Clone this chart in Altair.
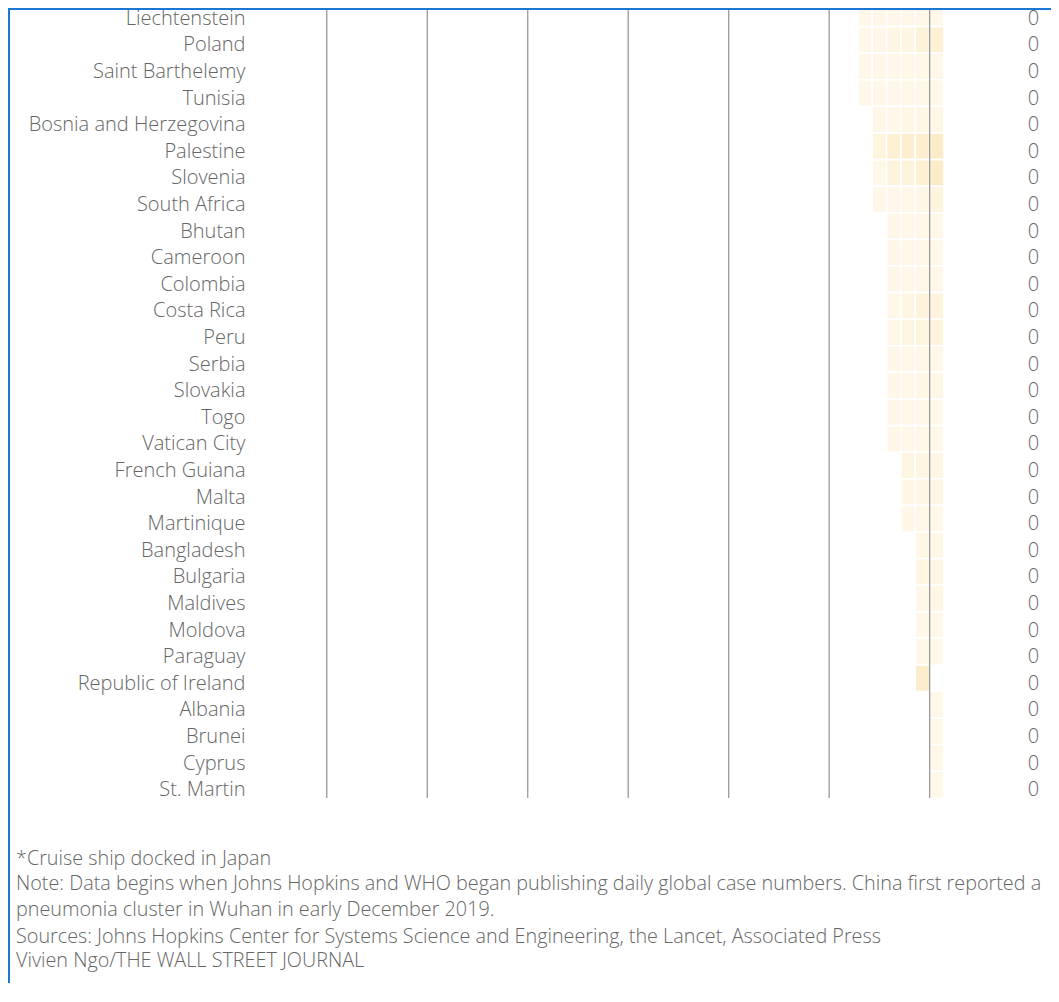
import json
import altair as alt
import pandas as pd

# ---- data ----
countries = [
    "Liechtenstein", "Poland", "Saint Barthelemy", "Tunisia",
    "Bosnia and Herzegovina", "Palestine", "Slovenia", "South Africa",
    "Bhutan", "Cameroon", "Colombia", "Costa Rica", "Peru", "Serbia",
    "Slovakia", "Togo", "Vatican City", "French Guiana", "Malta",
    "Martinique", "Bangladesh", "Bulgaria", "Maldives", "Moldova",
    "Paraguay", "Republic of Ireland", "Albania", "Brunei", "Cyprus",
    "St. Martin",
]
# day index (0 = Jan. 22) of each country's first reported case
first_day = [42, 42, 42, 42, 43, 43, 43, 43, 44, 44, 44, 44, 44, 44, 44,
             44, 44, 45, 45, 45, 46, 46, 46, 46, 46, 46, 47, 47, 47, 47]
# cumulative confirmed cases, one value per day from the first day on
cases = [
    [1, 1, 1, 1, 1, 1],        # Liechtenstein
    [1, 1, 5, 5, 11, 16],      # Poland
    [1, 1, 1, 1, 1, 1],        # Saint Barthelemy
    [1, 1, 1, 1, 1, 2],        # Tunisia
    [2, 2, 3, 3, 3],           # Bosnia and Herzegovina
    [7, 16, 19, 19, 25],       # Palestine
    [1, 8, 9, 16, 25],         # Slovenia
    [1, 1, 2, 3, 7],           # South Africa
    [1, 1, 1, 1],              # Bhutan
    [1, 2, 2, 2],              # Cameroon
    [1, 1, 1, 1],              # Colombia
    [1, 5, 9, 9],              # Costa Rica
    [1, 6, 7, 9],              # Peru
    [1, 1, 1, 1],              # Serbia
    [1, 1, 3, 3],              # Slovakia
    [1, 1, 1, 1],              # Togo
    [1, 1, 1, 1],              # Vatican City
    [5, 5, 5],                 # French Guiana
    [1, 3, 4],                 # Malta
    [2, 2, 2],                 # Martinique
    [3, 3],                    # Bangladesh
    [4, 4],                    # Bulgaria
    [2, 4],                    # Maldives
    [1, 1],                    # Moldova
    [1, 1],                    # Paraguay
    [21],                      # Republic of Ireland
    [2],                       # Albania
    [1],                       # Brunei
    [2],                       # Cyprus
    [2],                       # St. Martin
]
deaths = [0, 0, 0, 0, 0, 0, 0, 0, 0, 0, 0, 0, 0, 0, 0,
          0, 0, 0, 0, 0, 0, 0, 0, 0, 0, 0, 0, 0, 0, 0]
grid_days = [5, 12, 19, 26, 33, 40, 47]
n_days = 48

footnote_lines = [
    "*Cruise ship docked in Japan",
    "Note: Data begins when Johns Hopkins and WHO began publishing daily global case numbers. China first reported a",
    "pneumonia cluster in Wuhan in early December 2019.",
]
source_lines = [
    "Sources: Johns Hopkins Center for Systems Science and Engineering, the Lancet, Associated Press",
    "Vivien Ngo/THE WALL STREET JOURNAL",
]

# ---- tables ----
recs = []
for i, (c, d0, vals) in enumerate(zip(countries, first_day, cases)):
    for k, v in enumerate(vals):
        recs.append({"country": c, "row": i, "top": i - 0.5, "bottom": i + 0.5,
                     "day": d0 + k, "day_end": d0 + k + 1, "cases": v})
cells_df = pd.DataFrame(recs)
rows_df = pd.DataFrame({"row": list(range(len(countries))), "deaths": deaths})
grid_df = pd.DataFrame({"day": grid_days})
frame_df = pd.DataFrame({"k": [0]})

FONT = "Open Sans"
GRAY = "#666666"
PLOT_H = 788
FRAME_EXTRA = 200  # how far the outer frame line runs below the plot

xscale = alt.Scale(domain=[0, n_days], nice=False, zero=False)
yscale = alt.Scale(domain=[-0.125, len(countries) - 0.5], nice=False, zero=False, reverse=True)

left_axis = alt.Axis(
    values=list(range(len(countries))),
    labelExpr=json.dumps(countries) + "[datum.value]",
    ticks=False, domain=False, grid=False, title=None,
    labelPadding=10, labelFontSize=20, labelFont=FONT, labelFontWeight=300,
    labelColor=GRAY, labelOffset=5, labelOverlap=False, labelFlush=False,
    labelLimit=400, minExtent=247, maxExtent=247,
)
right_axis = alt.Axis(
    orient="right",
    values=list(range(len(countries))),
    labelExpr=json.dumps([str(v) for v in deaths]) + "[datum.value]",
    ticks=False, domain=False, grid=False, title=None,
    labelPadding=89, labelAlign="center", labelFontSize=20, labelFont=FONT,
    labelFontWeight=300, labelColor=GRAY, labelOffset=5, labelOverlap=False,
    labelFlush=False,
)

cells = alt.Chart(cells_df).mark_rect(stroke="white", strokeWidth=1.6, clip=True).encode(
    x=alt.X("day:Q", scale=xscale, axis=None),
    x2="day_end:Q",
    y=alt.Y("top:Q", scale=yscale, axis=left_axis),
    y2="bottom:Q",
    color=alt.Color("cases:Q", legend=None,
                    scale=alt.Scale(domain=[1, 25], range=["#fff8e8", "#fbebc6"], clamp=True)),
)

right_labels = alt.Chart(rows_df).mark_point(opacity=0).encode(
    y=alt.Y("row:Q", scale=yscale, axis=right_axis),
)

grid = alt.Chart(grid_df).mark_rule(color="#9a9a9a", strokeWidth=1.3).encode(
    x=alt.X("day:Q", scale=xscale, axis=None),
)

frame_top = alt.Chart(frame_df).mark_rule(color="#1a78d4", strokeWidth=2).encode(
    x=alt.value(-250), x2=alt.value(820), y=alt.value(-1)
)
frame_left = alt.Chart(frame_df).mark_rule(color="#1a78d4", strokeWidth=2).encode(
    x=alt.value(-246), y=alt.value(-3), y2=alt.value(PLOT_H + FRAME_EXTRA)
)

chart = alt.layer(cells, right_labels, grid, frame_top, frame_left).resolve_axis(
    y="independent"
).properties(
    width=689,
    height=PLOT_H,
    background="white",
    padding={"left": 247, "top": 2, "right": 107, "bottom": 185},
    autosize=alt.AutoSizeParams(type="none"),
    title=alt.TitleParams(
        text=footnote_lines,
        subtitle=source_lines,
        orient="bottom", anchor="start", frame="group",
        dx=-239, offset=50 - (FRAME_EXTRA + 0.5), baseline="top",
        font=FONT, fontSize=19.8, fontWeight=300, color=GRAY, lineHeight=25.5,
        subtitleFont=FONT, subtitleFontSize=19.8, subtitleFontWeight=300,
        subtitleColor=GRAY, subtitleLineHeight=24, subtitlePadding=8,
    ),
).configure_view(strokeWidth=0, stroke="transparent")

chart.save("out.html", embed_options={"renderer": "svg", "actions": False})
